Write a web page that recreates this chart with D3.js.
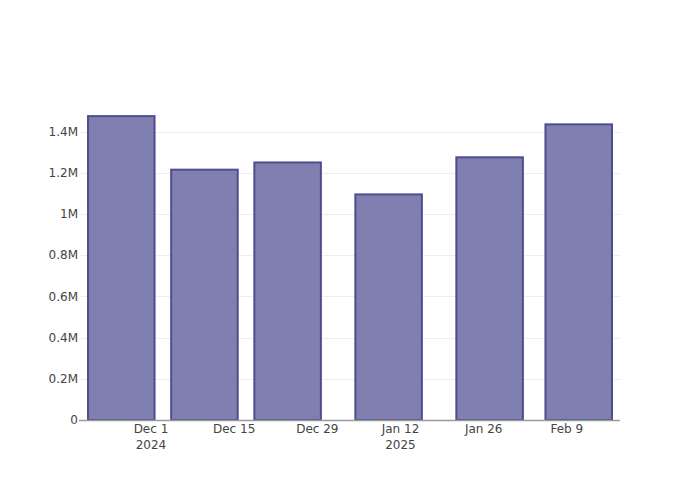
<!DOCTYPE html>
<html>
<head>
<meta charset="utf-8">
<script src="https://cdn.jsdelivr.net/npm/d3@7/dist/d3.min.js"></script>
<style>
  html, body { margin: 0; padding: 0; background: #fff; }
  svg { display: block; font-family: "DejaVu Sans", sans-serif; }
</style>
</head>
<body>
<svg id="chart" width="700" height="500"></svg>
<script>
// Data
const dates = ["2024-11-26", "2024-12-10", "2024-12-24", "2025-01-10", "2025-01-27", "2025-02-11"];
const values = [1475000, 1215000, 1250000, 1095000, 1275000, 1435000];
const xTickDates = ["2024-12-01", "2024-12-15", "2024-12-29", "2025-01-12", "2025-01-26", "2025-02-09"];
const xTickLabels = [["Dec 1", "2024"], ["Dec 15"], ["Dec 29"], ["Jan 12", "2025"], ["Jan 26"], ["Feb 9"]];
const yTicks = [0, 200000, 400000, 600000, 800000, 1000000, 1200000, 1400000];
const yTickLabels = ["0", "0.2M", "0.4M", "0.6M", "0.8M", "1M", "1.2M", "1.4M"];

const parse = d3.utcParse("%Y-%m-%d");
const DAY = 86400000;
const barDays = 14 * 0.8;

const margin = {l: 80, r: 80, t: 100, b: 80};
const W = 700, H = 500;
const svg = d3.select("#chart");

const xs = dates.map(parse);
const d0 = new Date(+xs[0] - barDays / 2 * DAY);
const d1 = new Date(+xs[xs.length - 1] + barDays / 2 * DAY);
const x = d3.scaleUtc().domain([d0, d1]).range([margin.l + 8, W - margin.r - 8]);
const yMax = d3.max(values) * 1.053;
const y = d3.scaleLinear().domain([0, yMax]).range([H - margin.b, margin.t]);

// grid
svg.append("g").selectAll("line").data(yTicks.slice(1)).join("line")
  .attr("x1", margin.l).attr("x2", W - margin.r)
  .attr("y1", d => Math.round(y(d)) + 0.5).attr("y2", d => Math.round(y(d)) + 0.5)
  .attr("stroke", "#eeeeee").attr("stroke-width", 1);

// bars
const bw = x(new Date(+d0 + barDays * DAY)) - x(d0);
svg.append("g").selectAll("rect").data(values).join("rect")
  .attr("x", (d, i) => x(xs[i]) - bw / 2)
  .attr("width", bw)
  .attr("y", d => y(d))
  .attr("height", d => y(0) - y(d))
  .attr("fill", "#7f7fb0")
  .attr("stroke", "#4d4d90")
  .attr("stroke-width", 2);

// x axis line
svg.append("line")
  .attr("x1", margin.l - 1).attr("x2", W - margin.r)
  .attr("y1", y(0) + 0.5).attr("y2", y(0) + 0.5)
  .attr("stroke", "#9a9a9a").attr("stroke-width", 1.5);

// y tick labels
svg.append("g").selectAll("text").data(yTicks).join("text")
  .attr("x", margin.l - 2)
  .attr("y", d => y(d))
  .attr("dy", "0.35em")
  .attr("text-anchor", "end")
  .attr("font-size", 12)
  .attr("fill", "#444")
  .text((d, i) => yTickLabels[i]);

// x tick labels
const xt = svg.append("g").selectAll("text").data(xTickDates).join("text")
  .attr("x", d => x(parse(d)))
  .attr("y", H - margin.b + 13)
  .attr("text-anchor", "middle")
  .attr("font-size", 12)
  .attr("fill", "#444");
xt.each(function(d, i) {
  const t = d3.select(this);
  xTickLabels[i].forEach((s, j) => {
    t.append("tspan").attr("x", x(parse(d))).attr("dy", j === 0 ? 0 : 16).text(s);
  });
});
</script>
</body>
</html>
